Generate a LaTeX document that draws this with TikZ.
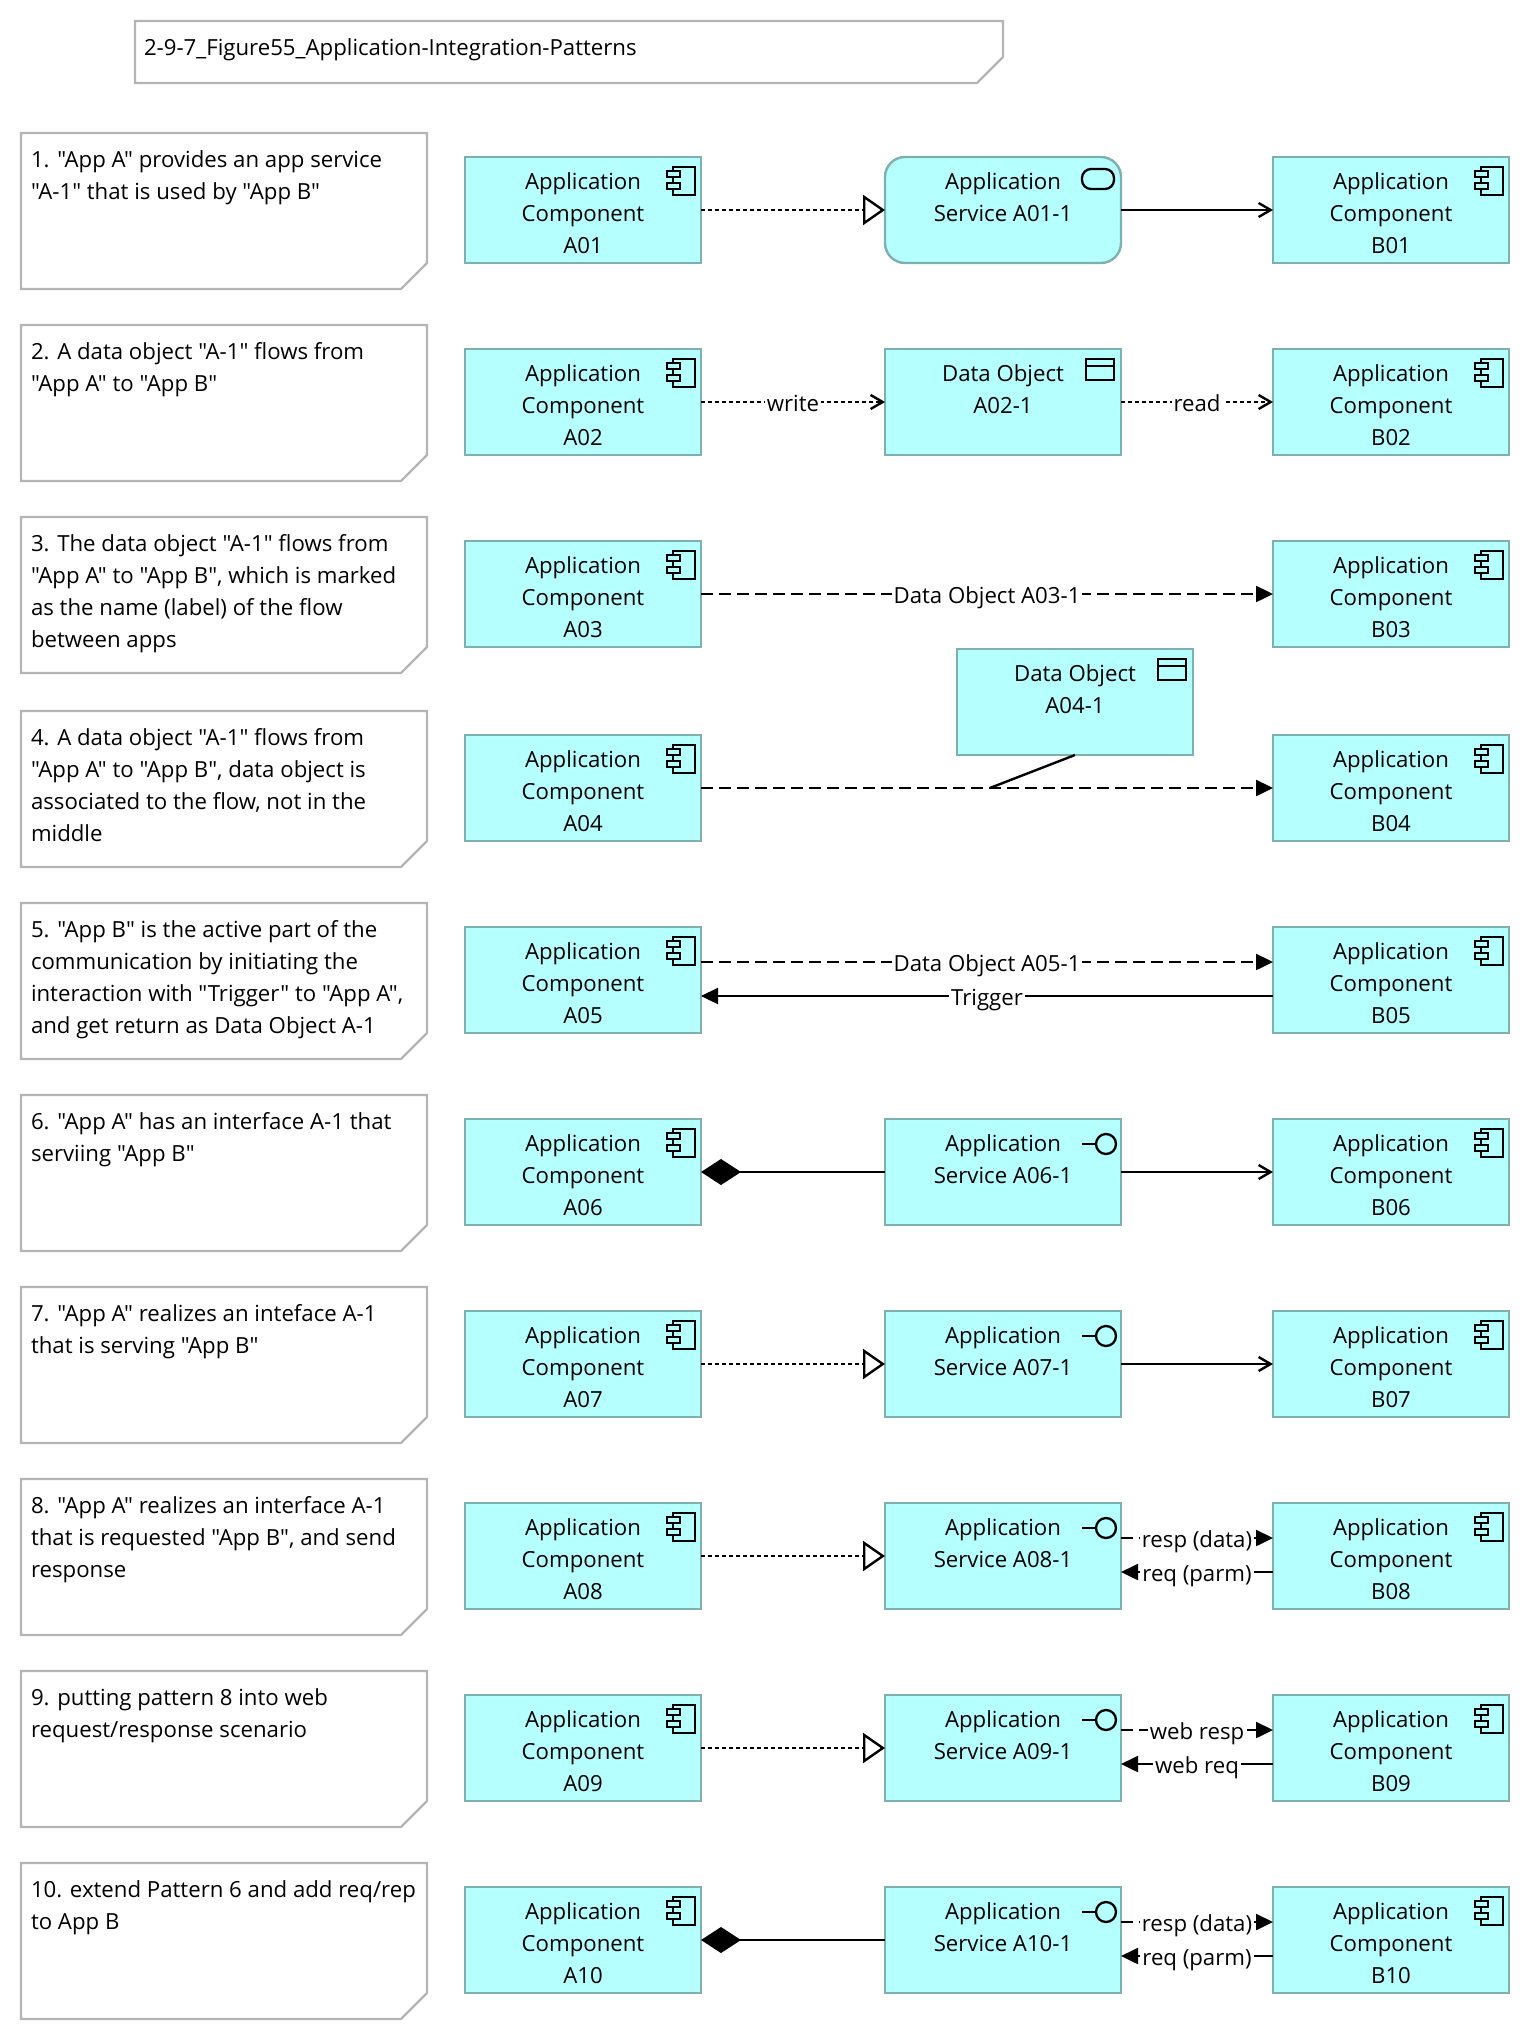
\documentclass[tikz,border=0pt]{standalone}
\usepackage{fontspec}
\setmainfont{Open Sans}[Ligatures=TeXOff]
\usetikzlibrary{arrows.meta}

\definecolor{cyanfill}{HTML}{B5FFFF}
\definecolor{cyanedge}{HTML}{7FB0B0}
\definecolor{noteedge}{HTML}{B4B4B4}

\tikzset{
    elem/.style={draw=cyanedge,fill=cyanfill,line width=2.4pt,minimum width=236pt,
        minimum height=106pt,inner sep=0pt,outer sep=0pt,anchor=north west},
    appsvc/.style={elem,rounded corners=20pt},
    notebox/.style={minimum width=406pt,minimum height=156pt,inner sep=0pt,outer sep=0pt,anchor=north west},
    titlebox/.style={minimum width=868pt,minimum height=62pt,inner sep=0pt,outer sep=0pt,anchor=north west},
    noteline/.style={draw=noteedge,line width=2.4pt},
    icon/.style={line width=2.3pt,fill=cyanfill},
    tag/.style={fill=white,inner xsep=2pt,inner ysep=0pt,text height=21pt,text depth=3pt},
    conn/.style={line width=2.4pt},
    serve/.style={conn,-{Straight Barb[length=12pt,width=14pt]}},
    realize/.style={conn,dash pattern=on 4pt off 3pt,-{Triangle[fill=white,length=22pt,width=30pt]}},
    access/.style={conn,dash pattern=on 4pt off 3pt,-{Straight Barb[length=12pt,width=14pt]}},
    flow/.style={conn,dash pattern=on 12pt off 6pt,-{Triangle[length=17pt,width=16pt]}},
    trig/.style={conn,-{Triangle[length=17pt,width=16pt]}},
    compose/.style={conn,{Diamond[length=40pt,width=26pt]}-},
}

\newcommand{\elemtext}[1]{\parbox[c][106pt][t]{232pt}{\centering\rule{0pt}{32pt}#1}}
\newcommand{\notetext}[1]{\parbox[c][156pt][t]{406pt}{\raggedright\leftskip=10pt\rule{0pt}{34pt}#1}}

% icons hang from the top right corner of a box
\newcommand{\compicon}[1]{
    \draw[icon] ([shift={(-28pt,-10pt)}]#1.north east) rectangle ([shift={(-6pt,-38pt)}]#1.north east);
    \draw[icon] ([shift={(-34pt,-14pt)}]#1.north east) rectangle ([shift={(-21pt,-20pt)}]#1.north east);
    \draw[icon] ([shift={(-34pt,-26pt)}]#1.north east) rectangle ([shift={(-21pt,-32pt)}]#1.north east);
}
\newcommand{\dataicon}[1]{
    \draw[icon] ([shift={(-35pt,-10pt)}]#1.north east) rectangle ([shift={(-7pt,-31pt)}]#1.north east);
    \draw[line width=2.3pt] ([shift={(-35pt,-17pt)}]#1.north east) -- ([shift={(-7pt,-17pt)}]#1.north east);
}
\newcommand{\svcicon}[1]{
    \draw[icon,rounded corners=9pt] ([shift={(-39pt,-12pt)}]#1.north east) rectangle ([shift={(-7pt,-32pt)}]#1.north east);
}
\newcommand{\ifaceicon}[1]{
    \draw[line width=2.3pt] ([shift={(-39pt,-25pt)}]#1.north east) -- ([shift={(-25pt,-25pt)}]#1.north east);
    \draw[line width=2.3pt] ([shift={(-15pt,-25pt)}]#1.north east) circle (10pt);
}

\begin{document}
\begin{tikzpicture}[x=1pt,y=-1pt,font=\fontsize{22.2}{32}\selectfont]
    \useasboundingbox (0,0) rectangle (1532,2042);

    % title
    \node[titlebox] (title) at (135,21) {\parbox[c][62pt][t]{850pt}{\raggedright\rule{0pt}{35pt}2-9-7\_Figure55\_Application-Integration-Patterns}};
    \draw[noteline] (title.north west) -- (title.north east) -- ([yshift=26pt]title.south east)
        -- ([xshift=-26pt]title.south east) -- (title.south west) -- cycle;

    % notes on the left
    \foreach \rw/\y/\txt in {
        01/157/{1. "App A" provides an app service\\"A-1" that is used by "App B"},
        02/349/{2. A data object "A-1" flows from\\"App A" to "App B"},
        03/541/{3. The data object "A-1" flows from\\"App A" to "App B", which is marked\\as the name (label) of the flow\\between apps},
        04/735/{4. A data object "A-1" flows from\\"App A" to "App B", data object is\\associated to the flow, not in the\\middle},
        05/927/{5. "App B" is the active part of the\\communication by initiating the\\interaction with "Trigger" to "App A",\\and get return as Data Object A-1},
        06/1119/{6. "App A" has an interface A-1 that\\serviing "App B"},
        07/1311/{7. "App A" realizes an inteface A-1\\that is serving "App B"},
        08/1503/{8. "App A" realizes an interface A-1\\that is requested "App B", and send\\response},
        09/1695/{9. putting pattern 8 into web\\request/response scenario},
        10/1887/{10. extend Pattern 6 and add req/rep\\to App B}}{
        \node[notebox] (note\rw) at (21,\y-24) {\notetext{\txt}};
        \draw[noteline] (note\rw.north west) -- (note\rw.north east) -- ([yshift=26pt]note\rw.south east)
            -- ([xshift=-26pt]note\rw.south east) -- (note\rw.south west) -- cycle;
    }

    % components A and B
    \foreach \rw/\y in {01/157,02/349,03/541,04/735,05/927,06/1119,07/1311,08/1503,09/1695,10/1887}{
        \node[elem] (A\rw) at (465,\y) {\elemtext{Application\\Component\\A\rw}};
        \node[elem] (B\rw) at (1273,\y) {\elemtext{Application\\Component\\B\rw}};
        \compicon{A\rw}
        \compicon{B\rw}
    }

    % boxes in the middle
    \node[appsvc] (S01) at (885,157) {\elemtext{Application\\Service A01-1}};
    \svcicon{S01}
    \node[elem] (D02) at (885,349) {\elemtext{Data Object\\A02-1}};
    \dataicon{D02}
    \node[elem] (D04) at (957,649) {\elemtext{Data Object\\A04-1}};
    \dataicon{D04}
    \foreach \rw/\y in {06/1119,07/1311,08/1503,09/1695,10/1887}{
        \node[elem] (S\rw) at (885,\y) {\elemtext{Application\\Service A\rw-1}};
        \ifaceicon{S\rw}
    }

    % connectors
    \foreach \rw in {01,07,08,09}{
        \draw[realize] (A\rw) -- (S\rw);
    }
    \foreach \rw in {06,10}{
        \draw[compose] (A\rw) -- (S\rw);
    }
    \foreach \rw in {01,06,07}{
        \draw[serve] (S\rw) -- (B\rw);
    }
    \draw[access] (A02) -- node[tag] {write} (D02);
    \draw[access] (D02) -- node[tag] {read} (B02);
    \draw[flow] (A03) -- node[tag] {Data Object A03-1} (B03);
    \draw[flow] (A04) -- coordinate[pos=.505] (flow04) (B04);
    \draw[conn] (D04.south) -- (flow04);
    \draw[flow] ([yshift=18pt]A05.east) -- node[tag] {Data Object A05-1} ([yshift=18pt]B05.west);
    \draw[trig] ([yshift=-16pt]B05.west) -- node[tag] {Trigger} ([yshift=-16pt]A05.east);
    \foreach \rw in {08,10}{
        \draw[flow] ([yshift=18pt]S\rw.east) -- node[tag] {resp (data)} ([yshift=18pt]B\rw.west);
        \draw[trig] ([yshift=-16pt]B\rw.west) -- node[tag] {req (parm)} ([yshift=-16pt]S\rw.east);
    }
    \draw[flow] ([yshift=18pt]S09.east) -- node[tag] {web resp} ([yshift=18pt]B09.west);
    \draw[trig] ([yshift=-16pt]B09.west) -- node[tag] {web req} ([yshift=-16pt]S09.east);
\end{tikzpicture}
\end{document}
